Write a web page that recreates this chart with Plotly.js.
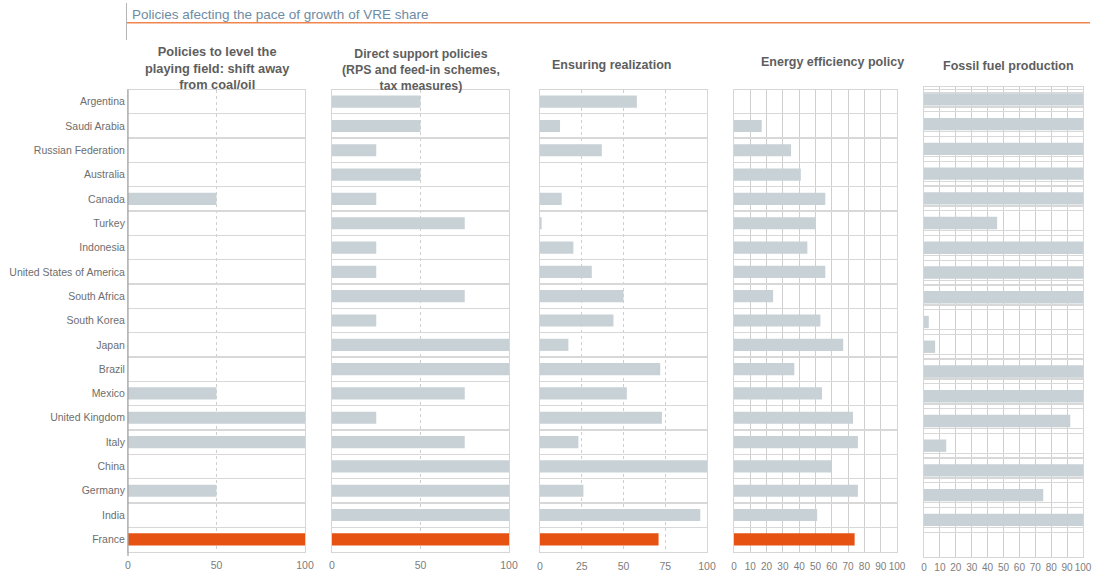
<!DOCTYPE html>
<html>
<head>
<meta charset="utf-8">
<script src="https://cdn.plot.ly/plotly-3.0.1.min.js"></script>
<style>html,body{margin:0;padding:0;background:#fff;}#chart{width:1096px;height:576px;}</style>
</head>
<body>
<div id="chart"></div>
<script>
// ---- Data ----
const countries = ["Argentina","Saudi Arabia","Russian Federation","Australia","Canada","Turkey","Indonesia","United States of America","South Africa","South Korea","Japan","Brazil","Mexico","United Kingdom","Italy","China","Germany","India","France"];
const highlightCountry = "France";

const panelTitles = [
  "Policies to level the<br>playing field: shift away<br>from coal/oil",
  "Direct support policies<br>(RPS and feed-in schemes,<br>tax measures)",
  "Ensuring realization",
  "Energy efficiency policy",
  "Fossil fuel production"
];

const levelPlayingField   = [0,0,0,0,50,0,0,0,0,0,0,0,50,100,100,0,50,0,100];
const directSupport       = [50,50,25,50,25,75,25,25,75,25,100,100,75,25,75,100,100,100,100];
const ensuringRealization = [58,12,37,0,13,1,20,31,50,44,17,72,52,73,23,100,26,96,71];
const energyEfficiency    = [0,17,35,41,56,50,45,56,24,53,67,37,54,73,76,60,76,51,74];
const fossilFuel          = [100,100,100,100,100,46,100,100,100,3,7,100,100,92,14,100,75,100,0];

const tickSteps = [50, 50, 25, 10, 10];
const chartTitle = "Policies afecting the pace of growth of VRE share";

// ---- Styling / layout ----
const W = 1096, H = 576;
const GREY = "#c8d1d5", ORANGE = "#e65212";
const FONT = "Liberation Sans, Arial, sans-serif";
const px = x => x / W;
const py = y => 1 - y / H;

const series = [levelPlayingField, directSupport, ensuringRealization, energyEfficiency, fossilFuel];
const panelX = [[128,305],[332,509],[540,707],[734,897],[924,1083]];
const panelYmain = [89.5, 551.5];
const panelY5 = [87, 557];
const headerPos = [[217, 68, 12.8],[421, 70, 12.3],[611, 65, 12.5],[832, 62, 12.5],[1008, 66, 12.5]];
const tickFontSizes = [10.5, 10.5, 10.5, 10, 10];
const tickLens = [4, 4, 5, 5, 1];

const colors = countries.map(c => c === highlightCountry ? ORANGE : GREY);

const data = [];
const layout = {
  width: W, height: H, autosize: false,
  margin: {l:0, r:0, t:0, b:0},
  paper_bgcolor: "#fff", plot_bgcolor: "#fff",
  showlegend: false, bargap: 0.5,
  font: {family: FONT, color: "#707070", size: 10.5},
  annotations: [], shapes: []
};

series.forEach((vals, k) => {
  const n = k + 1;
  const xa = "x" + (n === 1 ? "" : n), ya = "y" + (n === 1 ? "" : n);
  const isLast = k === 4;
  data.push({
    type: "bar", orientation: "h",
    x: vals,
    y: isLast ? countries.map((_, i) => i) : countries,
    xaxis: xa, yaxis: ya,
    width: 0.5,
    marker: {color: colors, line: {width: 0}},
    hovertemplate: "%{x}<extra></extra>"
  });
  const yDom = isLast ? panelY5 : panelYmain;
  layout["xaxis" + (n === 1 ? "" : n)] = {
    domain: [px(panelX[k][0]), px(panelX[k][1])],
    anchor: ya, range: [0, 100], fixedrange: true,
    tick0: 0, dtick: tickSteps[k], tickangle: 0,
    showgrid: true, gridcolor: "#cfcfcf", griddash: k >= 3 ? "solid" : "dot", gridwidth: 1,
    zeroline: false,
    showline: true, mirror: true, linecolor: "#d6d6d6", linewidth: 1,
    ticks: "outside", ticklen: tickLens[k], tickcolor: "rgba(0,0,0,0)",
    tickfont: {family: FONT, size: tickFontSizes[k], color: "#7d7d7d"}
  };
  const yax = {
    domain: [py(yDom[1]), py(yDom[0])],
    anchor: xa, fixedrange: true,
    showline: true, mirror: true, linecolor: "#d6d6d6", linewidth: 1,
    showgrid: true, gridcolor: "#d8d8d8", gridwidth: 1.3,
    zeroline: false, ticks: "",
    showticklabels: k === 0,
    tickfont: {family: FONT, size: 10.5, color: "#6e6e6e"}
  };
  if (isLast) {
    const gl = [-0.41, -0.29];
    countries.forEach((_, i) => { if (i < countries.length - 1) { gl.push(i + 0.31); gl.push(i + 0.5); } });
    Object.assign(yax, {type: "linear", range: [countries.length - 0.5, -0.5], tickmode: "array", tickvals: gl});
  } else {
    Object.assign(yax, {type: "category", categoryorder: "array", categoryarray: countries,
      autorange: "reversed", tickson: "boundaries"});
  }
  layout["yaxis" + (n === 1 ? "" : n)] = yax;

  layout.annotations.push({
    xref: "paper", yref: "paper", x: px(headerPos[k][0]), y: py(headerPos[k][1]),
    xanchor: "center", yanchor: "middle", showarrow: false,
    text: "<b>" + panelTitles[k] + "</b>",
    font: {family: FONT, size: headerPos[k][2], color: "#5e5e5e"}
  });
});

// dark left axis line on first panel
layout.shapes.push({type: "line", xref: "paper", yref: "paper",
  x0: px(128), x1: px(128), y0: py(556), y1: py(89.5), line: {color: "#a3a3a3", width: 1.2}});

// chart title, underline and left rule
layout.annotations.push({
  xref: "paper", yref: "paper", x: px(130), y: py(14.5), xanchor: "left", yanchor: "middle",
  showarrow: false, text: chartTitle,
  font: {family: FONT, size: 13.5, color: "#6d8ca4"}
});
layout.shapes.push({type: "line", xref: "paper", yref: "paper",
  x0: px(127), x1: px(1090), y0: py(22.7), y1: py(22.7), line: {color: "#f0854f", width: 1.6}});
layout.shapes.push({type: "line", xref: "paper", yref: "paper",
  x0: px(126.5), x1: px(126.5), y0: py(3), y1: py(40), line: {color: "#b5b5b5", width: 1}});

Plotly.newPlot("chart", data, layout, {displayModeBar: false, staticPlot: true});
</script>
</body>
</html>
